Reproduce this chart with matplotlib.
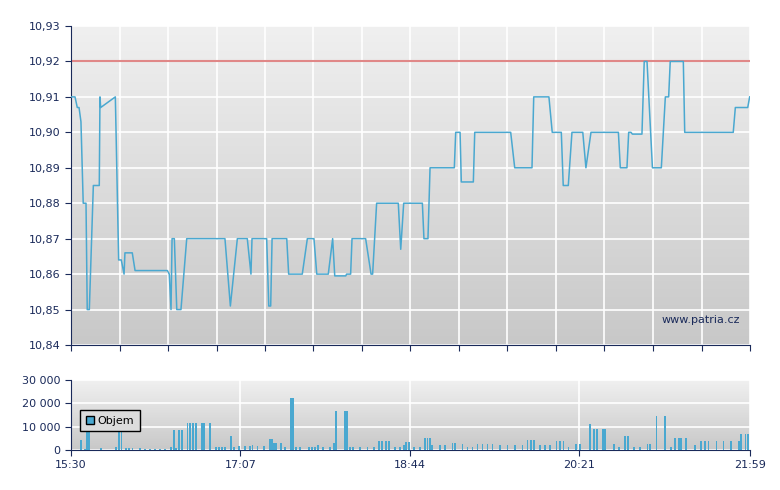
import matplotlib
matplotlib.use("Agg")
import matplotlib.pyplot as plt
import numpy as np
from matplotlib.patches import Patch

# minuty od 15:30 a cena
price_t = [0, 2.3, 3.6, 4.6, 5.7, 7, 8.6, 9.3, 10.5, 12.8, 16.2, 16.6, 17, 25.4, 27.3, 28.8,
           30.4, 30.9, 35.1, 36.7, 55.2, 56.3, 57.3, 57.9, 59.2, 60.6, 63, 66.3, 88.2, 91.3,
           95.3, 101, 103.1, 103.7, 112.1, 113.3, 114.4, 115.2, 123.6, 124.7, 132.5, 135.4,
           139.2, 140.8, 147.4, 149.9, 151.1, 157.4, 157.9, 160.2, 161, 168.8, 171.9, 172.8,
           175.1, 187.5, 188.9, 190.6, 200, 201.3, 202.2, 204.5, 205.7, 219.6, 220.4, 222.9,
           223.6, 230.5, 231.3, 251.9, 254.2, 264.1, 265.1, 273.8, 275.7, 280.9, 282, 284.9,
           287, 293.2, 295, 297.9, 313.6, 314.7, 318.5, 319.5, 320.8, 321.6, 327.1, 328.4,
           330, 333.1, 338.2, 340.5, 342.4, 343.3, 350.8, 351.6, 379.4, 380.6, 387.7, 388.8]
price_v = [10.91, 10.91, 10.907, 10.907, 10.903, 10.88, 10.88, 10.85, 10.85, 10.885, 10.885,
           10.91, 10.907, 10.91, 10.864, 10.864, 10.86, 10.866, 10.866, 10.861, 10.861, 10.86,
           10.85, 10.87, 10.87, 10.85, 10.85, 10.87, 10.87, 10.851, 10.87, 10.87, 10.86, 10.87,
           10.87, 10.851, 10.851, 10.87, 10.87, 10.86, 10.86, 10.87, 10.87, 10.86, 10.86, 10.87,
           10.8595, 10.8595, 10.86, 10.86, 10.87, 10.87, 10.86, 10.86, 10.88, 10.88, 10.867,
           10.88, 10.88, 10.88, 10.87, 10.87, 10.89, 10.89, 10.90, 10.90, 10.886, 10.886, 10.90,
           10.90, 10.89, 10.89, 10.91, 10.91, 10.90, 10.90, 10.885, 10.885, 10.90, 10.90, 10.89,
           10.90, 10.90, 10.89, 10.89, 10.90, 10.90, 10.8995, 10.8995, 10.92, 10.92, 10.89,
           10.89, 10.91, 10.91, 10.92, 10.92, 10.90, 10.90, 10.907, 10.907, 10.91]
ref_price = 10.92

vol_t = [5.7, 8, 9.2, 10.3, 17.2, 25.8, 27.5, 28.9, 31.5, 33.2, 35.2, 39.5, 42.4, 45.3, 48.1,
         51, 53.9, 57.3, 59, 60.2, 61.9, 63.6, 66.8, 68.2, 69.9, 71.6, 75.1, 76.2, 79.7, 83.1,
         84.8, 86.5, 88.3, 91.7, 93.4, 96.3, 99.7, 102.6, 104, 106.9, 110.6, 114, 115.2, 116.3,
         117.5, 120.3, 122.6, 126.1, 127.2, 128.9, 131.2, 136.4, 138.1, 139.8, 141.5, 144.4,
         148.4, 150.7, 151.9, 157, 158.2, 159.9, 161.6, 165.6, 169.9, 173.6, 176.5, 178.2,
         180.5, 182.2, 185.7, 188.5, 190.8, 192, 193.7, 196.6, 200, 202.9, 204.3, 205.7, 206.9,
         211.5, 214.3, 218.6, 220, 224.4, 227.2, 230.1, 233, 235.8, 238.7, 241.5, 245.8, 250.1,
         254.4, 258.7, 261.6, 263.6, 265.3, 268.8, 271.6, 274.5, 278.2, 280.2, 282.2, 285.1,
         289.4, 291.7, 297.4, 299.7, 301.4, 304.9, 306, 311.2, 314, 317.5, 319.2, 322.6, 326.1,
         330.4, 331.8, 335.5, 340.4, 343.8, 346.1, 348.4, 349.6, 352.4, 357.6, 361, 363.3,
         365.3, 369.9, 373.9, 378.2, 382.6, 384, 386.3, 388, 389.7]
vol_v = [4500, 600, 10000, 10000, 1000, 1400, 10000, 10000, 700, 700, 700, 700, 500, 500, 500,
         500, 500, 1400, 8400, 1000, 8400, 8400, 11400, 11400, 11400, 11400, 11400, 11400, 11400,
         1400, 1400, 1400, 1400, 5800, 1400, 1800, 1800, 1800, 2300, 1800, 1800, 4900, 4900,
         2800, 2800, 2800, 1400, 22200, 22200, 1400, 1400, 1400, 1400, 1400, 2300, 1400, 1400,
         2800, 16600, 16600, 16600, 1400, 1400, 1400, 1400, 1400, 4000, 4000, 4000, 4000, 1400,
         1400, 2300, 3600, 3600, 1400, 1400, 5300, 5300, 5300, 2300, 2300, 2300, 3200, 3200,
         2700, 1400, 1400, 2700, 2700, 2700, 2700, 2200, 2200, 2200, 2200, 4500, 4500, 4500,
         2200, 2200, 2200, 3900, 3900, 3900, 1400, 2700, 2700, 11000, 8800, 8800, 8800, 8800,
         2700, 1400, 5800, 5800, 1400, 1400, 2700, 2700, 14400, 14400, 1400, 5000, 5000, 5000,
         5000, 2300, 3900, 3900, 3900, 3900, 3900, 3900, 3900, 6800, 6800, 6800, 6800]

time_labels = ["15:30", "17:07", "18:44", "20:21", "21:59"]
label_pos = [0, 97, 194, 291, 389]

NAVY = "#1a2a5a"
LINE = "#4aa8d0"
plt.rcParams["font.family"] = "DejaVu Sans"
plt.rcParams["font.size"] = 8

fig = plt.figure(figsize=(7.8, 4.9), dpi=100)
ax = fig.add_axes([71 / 780, 1 - 345 / 490, 679 / 780, 319 / 490])
axv = fig.add_axes([71 / 780, 1 - 450 / 490, 679 / 780, 70 / 490])

grad = np.linspace(0, 1, 256).reshape(-1, 1)
cmap = matplotlib.colors.LinearSegmentedColormap.from_list("bg", ["#f0f0f0", "#c8c8c8"])
for a, ylim in ((ax, (10.84, 10.93)), (axv, (0, 30000))):
    a.imshow(grad, cmap=cmap, aspect="auto", extent=(0, 389, ylim[0], ylim[1]),
             origin="upper", zorder=0)
    a.set_xlim(0, 389)
    a.set_ylim(*ylim)
    a.set_axisbelow(True)
    for s in ("top", "right"):
        a.spines[s].set_visible(False)
    for s in ("left", "bottom"):
        a.spines[s].set_color(NAVY)
    a.tick_params(colors=NAVY, labelcolor=NAVY, length=4)

# cena
ax.axhline(ref_price, color="#e08888", lw=1.5, zorder=2)
ax.plot(price_t, price_v, color=LINE, lw=1.1, zorder=3)
yt = np.round(np.arange(10.84, 10.935, 0.01), 2)
ax.set_yticks(yt)
ax.set_yticklabels([f"{v:.2f}".replace(".", ",") for v in yt])
xt = np.linspace(0, 389, 15)
ax.set_xticks(xt)
ax.set_xticklabels([])
ax.grid(True, color="white", lw=1.2)
ax.text(0.985, 0.07, "www.patria.cz", transform=ax.transAxes, ha="right",
        color=NAVY, fontsize=8, zorder=4)

# objem
axv.bar(vol_t, vol_v, width=0.9, color=LINE, zorder=3)
axv.set_yticks([0, 10000, 20000, 30000])
axv.set_yticklabels(["0", "10 000", "20 000", "30 000"])
axv.set_xticks(label_pos)
axv.set_xticklabels(time_labels)
axv.grid(True, color="white", lw=1.2)
leg = axv.legend(handles=[Patch(facecolor=LINE, edgecolor="black", label="Objem")],
                 loc="upper left", bbox_to_anchor=(0.005, 0.65), fancybox=False,
                 handlelength=0.8, handleheight=0.8, handletextpad=0.3,
                 borderpad=0.5, fontsize=8)
leg.get_frame().set_edgecolor("black")
leg.get_frame().set_facecolor("#dcdcdc")
leg.get_frame().set_alpha(1)
leg.set_zorder(5)

fig.savefig("out.png", dpi=100)
